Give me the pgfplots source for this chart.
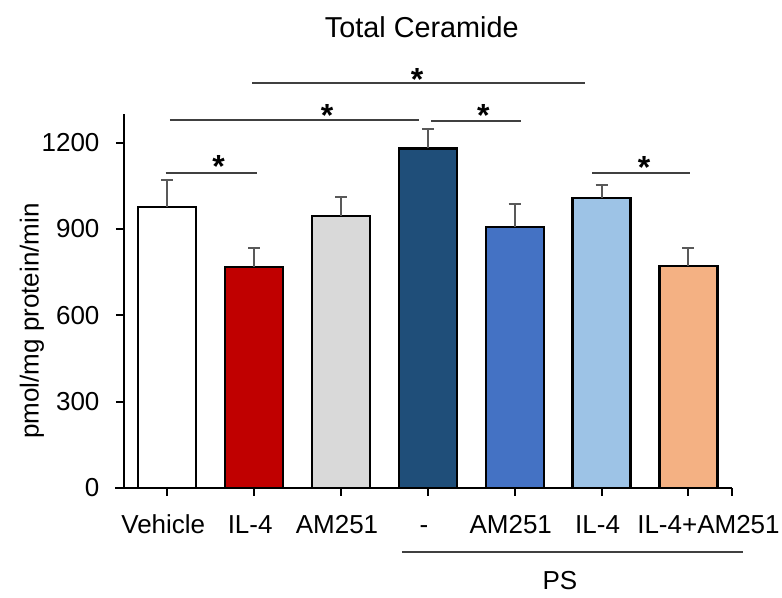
\documentclass[border=0pt]{standalone}
\usepackage{pgfplots}
\pgfplotsset{compat=1.18}
\usepackage{fontspec}
\setmainfont{Liberation Sans}
\definecolor{cVeh}{HTML}{FFFFFF}
\definecolor{cIL}{HTML}{C00000}
\definecolor{cAM}{HTML}{D9D9D9}
\definecolor{cPS}{HTML}{1F4E79}
\definecolor{cPSAM}{HTML}{4472C4}
\definecolor{cPSIL}{HTML}{9DC3E6}
\definecolor{cPSILAM}{HTML}{F4B183}
\definecolor{errgray}{HTML}{595959}
\definecolor{siggray}{HTML}{404040}
\tikzset{
  sig/.style={line width=0.9pt, siggray},
  star/.style={font=\fontsize{16}{16}\selectfont\bfseries, anchor=base, inner sep=0pt, yshift=-9.3pt},
}
\begin{document}
\begin{tikzpicture}
\fontsize{13}{15.6}\selectfont
\begin{axis}[
  at={(0,0)}, anchor=south west,
  scale only axis, width=304pt, height=186.9pt,
  xmin=-0.5, xmax=6.5, ymin=0, ymax=1300,
  axis x line*=bottom, axis y line*=left,
  axis line style={line width=1pt, black},
  xtick={0,1,2,3,4,5,6},
  xticklabels={Vehicle,IL-4,AM251,-,AM251,IL-4,\hspace*{24pt}IL-4+AM251},
  extra x ticks={6.5}, extra x tick labels={},
  ytick={0,300,600,900,1200},
  tick align=outside, major tick length=4pt,
  tick style={line width=1pt, black},
  /pgf/number format/assume math mode=true,
  /pgf/number format/1000 sep={},
  ticklabel style={font=\fontsize{13}{15.6}\selectfont},
  xticklabel style={anchor=base, inner sep=0pt, yshift=-18.7pt, xshift=-2pt},
  yticklabel style={anchor=east, inner sep=0pt, xshift=-8pt},
  clip=false,
  ybar, bar width=29pt, bar shift=0pt,
  every axis plot/.append style={draw=black, line width=1.2pt},
  error bars/y dir=plus, error bars/y explicit,
  error bars/error bar style={line width=1pt, color=errgray},
  error bars/error mark options={rotate=90, mark size=3pt, line width=1pt, color=errgray},
]
\addplot[fill=cVeh] coordinates {(0,977) +- (0,93)};
\addplot[fill=cIL] coordinates {(1,767) +- (0,68)};
\addplot[fill=cAM] coordinates {(2,946) +- (0,66)};
\addplot[fill=cPS] coordinates {(3,1180) +- (0,69)};
\addplot[fill=cPSAM] coordinates {(4,906) +- (0,80)};
\addplot[fill=cPSIL] coordinates {(5,1008) +- (0,44)};
\addplot[fill=cPSILAM] coordinates {(6,772) +- (0,63)};

\draw[line width=1pt] (axis cs:-0.6,0) -- (axis cs:-0.5,0);

\draw[sig] (axis cs:-0.02,1096) -- (axis cs:1.03,1096);
\node[star] at (axis cs:0.59,1143) {*};
\draw[sig] (axis cs:0.98,1408) -- (axis cs:4.81,1408);
\node[star] at (axis cs:2.875,1447) {*};
\draw[sig] (axis cs:0.03,1279) -- (axis cs:2.90,1279);
\node[star] at (axis cs:1.84,1321) {*};
\draw[sig] (axis cs:3.04,1275) -- (axis cs:4.07,1275);
\node[star] at (axis cs:3.64,1321) {*};
\draw[sig] (axis cs:4.89,1096) -- (axis cs:6.02,1096);
\node[star] at (axis cs:5.49,1139) {*};

\node[anchor=center, font=\fontsize{14.4}{17}\selectfont] at (axis cs:2.93,1602) {Total Ceramide};
\node[rotate=90, anchor=center] at (axis cs:-1.558,580) {pmol/mg protein/min};
\draw[line width=1pt, siggray] (axis cs:2.70,-224) -- (axis cs:6.63,-224);
\node[anchor=center] at (axis cs:4.52,-321) {PS};

\path (axis cs:-1.926,-362.8) rectangle (axis cs:7.077,1696.3);
\end{axis}
\end{tikzpicture}
\end{document}
